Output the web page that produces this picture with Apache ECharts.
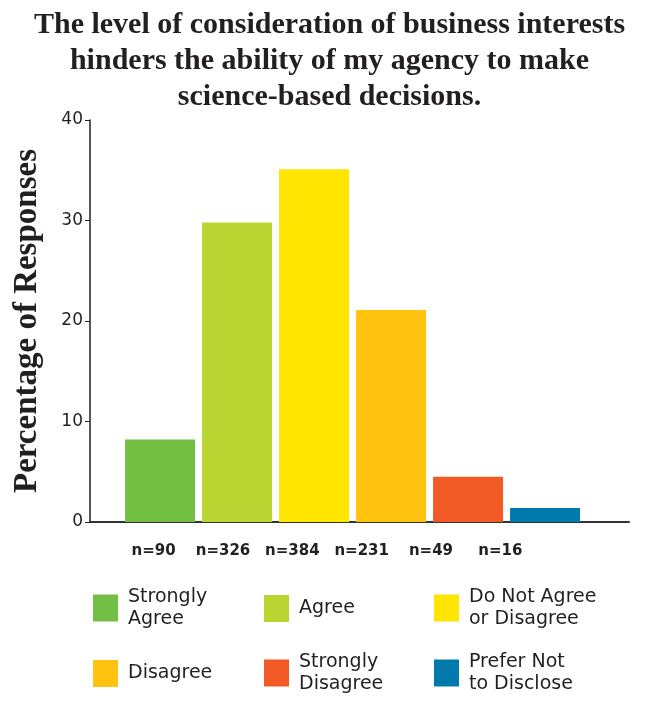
<!DOCTYPE html>
<html>
<head>
<meta charset="utf-8">
<script src="https://cdn.jsdelivr.net/npm/echarts@6/dist/echarts.min.js"></script>
<style>
  html, body { margin: 0; padding: 0; background: #fff; }
  #chart { width: 659px; height: 702px; }
</style>
</head>
<body>
<div id="chart"></div>
<script>
var categories = ["Strongly\nAgree", "Agree", "Do Not Agree\nor Disagree", "Disagree", "Strongly\nDisagree", "Prefer Not\nto Disclose"];
var values = [8.2, 29.8, 35.1, 21.1, 4.5, 1.4];
var counts = ["n=90", "n=326", "n=384", "n=231", "n=49", "n=16"];
var colors = ["#72bf44", "#bad532", "#ffe500", "#ffc20e", "#f15a24", "#007aad"];
var yTicks = [0, 10, 20, 30, 40];

var textColor = "#231f20";
var chart = echarts.init(document.getElementById("chart"));

// bars on a value x axis so the axis line can run past the outer bars
var series = categories.map(function (name, i) {
  return {
    name: name,
    type: "bar",
    xAxisIndex: 0,
    yAxisIndex: 0,
    barWidth: 70,
    barGap: "-100%",
    itemStyle: { color: colors[i] },
    data: [[i, values[i]]]
  };
});

// legend: one small legend per item, laid out as 3 columns x 2 rows
var legendPos = [
  { left: 93, top: 581 }, { left: 264, top: 595 }, { left: 434, top: 581 },
  { left: 93, top: 660 }, { left: 264, top: 646 }, { left: 434, top: 646 }
];
var legends = categories.map(function (name, i) {
  var twoLines = name.indexOf("\n") >= 0;
  return {
    data: [name],
    left: legendPos[i].left,
    top: legendPos[i].top,
    padding: 0,
    icon: "rect",
    itemWidth: 25,
    itemHeight: 27,
    selectedMode: false,
    textStyle: {
      fontFamily: "DejaVu Sans",
      fontSize: 19,
      lineHeight: 22,
      color: textColor,
      padding: twoLines ? [10, 0, 0, 5] : [0, 0, 0, 5]
    }
  };
});

var option = {
  animation: false,
  title: {
    text: "The level of consideration of business interests\nhinders the ability of my agency to make\nscience-based decisions.",
    left: "center",
    top: 2,
    textStyle: {
      fontFamily: "Liberation Serif",
      fontWeight: "bold",
      fontSize: 30,
      lineHeight: 36,
      color: textColor
    }
  },
  legend: legends,
  grid: [
    { left: 90, right: 30, top: 120, bottom: 180 },
    { left: 119, right: 124, top: 120, bottom: 180 }
  ],
  xAxis: [
    {
      type: "value",
      gridIndex: 0,
      min: -0.91,
      max: 6.09,
      axisLine: { show: true, onZero: false, lineStyle: { color: "#333", width: 2 } },
      axisTick: { show: false },
      axisLabel: { show: false },
      splitLine: { show: false }
    },
    {
      type: "category",
      gridIndex: 1,
      data: counts,
      axisLine: { show: false },
      axisTick: { show: false },
      axisLabel: {
        interval: 0,
        margin: 22,
        fontFamily: "DejaVu Sans",
        fontWeight: "bold",
        fontSize: 15,
        color: textColor
      }
    }
  ],
  yAxis: [
    {
      type: "value",
      gridIndex: 0,
      min: yTicks[0],
      max: yTicks[yTicks.length - 1],
      interval: 10,
      name: "Percentage of Responses",
      nameLocation: "middle",
      nameRotate: 90,
      nameGap: 46,
      nameTextStyle: {
        fontFamily: "Liberation Serif",
        fontWeight: "bold",
        fontSize: 33,
        color: textColor
      },
      axisLine: { show: true, onZero: false, lineStyle: { color: "#231f20", width: 1.5 } },
      axisTick: { show: true, length: 5, lineStyle: { color: "#231f20" } },
      axisLabel: {
        margin: 7,
        fontFamily: "DejaVu Sans",
        fontSize: 17,
        color: textColor
      },
      splitLine: { show: false }
    },
    {
      type: "value",
      gridIndex: 1,
      show: false
    }
  ],
  series: series
};

chart.setOption(option);
window.addEventListener("resize", function () {
  chart.resize();
});
</script>
</body>
</html>
